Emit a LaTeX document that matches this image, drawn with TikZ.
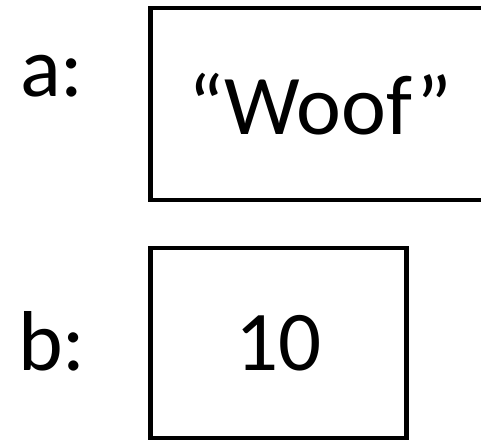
\documentclass[tikz,border=0pt]{standalone}
\usepackage{fontspec}
\setmainfont{Carlito}
\usepackage{tikz}
\usetikzlibrary{positioning}
\tikzset{
  cell/.style   ={draw, line width=4.5pt, inner sep=0pt, font=\fontsize{85}{100}\selectfont},
  varlbl/.style ={anchor=base west, inner sep=0pt, font=\fontsize{85}{100}\selectfont},
}
\begin{document}
\begin{tikzpicture}[x=1pt,y=-1pt]
  \useasboundingbox (0,0) rectangle (481,441);
  \clip (0,0) rectangle (481,441);
  % variable boxes
  \node[cell, minimum width=340pt, minimum height=192pt](boxa) at (320.5,104){“Woof”};
  \node[cell, minimum width=256pt, minimum height=190pt](boxb) at (278.5,343){10};
  % variable names
  \node[varlbl](lbla) at (20,97){a:};
  \node[varlbl](lblb) at (18,370){b:};
\end{tikzpicture}
\end{document}
